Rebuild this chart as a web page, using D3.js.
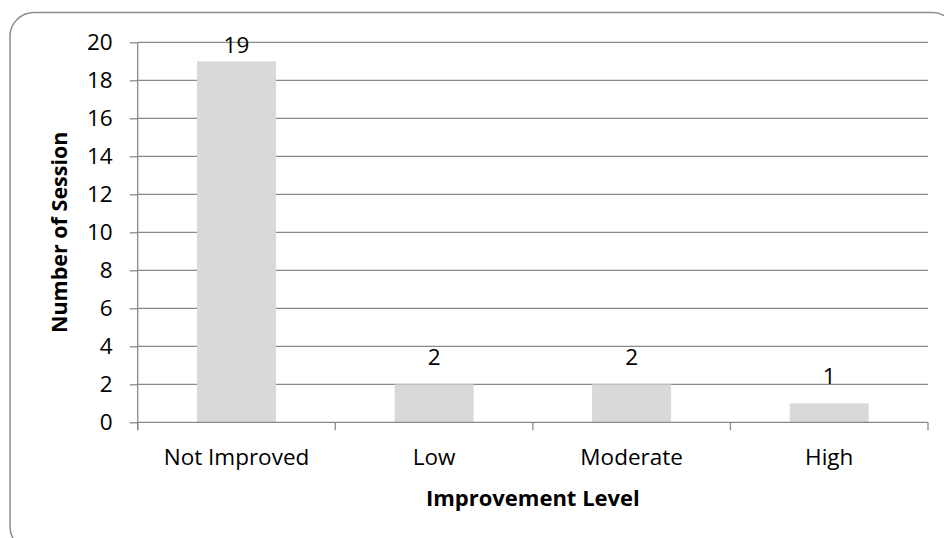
<!DOCTYPE html>
<html>
<head>
<meta charset="utf-8">
<script src="https://cdn.jsdelivr.net/npm/d3@7"></script>
<style>
  html, body { margin: 0; padding: 0; background: #fff; }
  svg { display: block; }
  text { font-family: "Open Sans", "Noto Sans", sans-serif; fill: #000; }
</style>
</head>
<body>
<svg id="chart" width="944" height="538"></svg>
<script>
// Sessions per improvement level
const categories = ["Not Improved", "Low", "Moderate", "High"];
const sessions = [19, 2, 2, 1];
const yTicks = [0, 2, 4, 6, 8, 10, 12, 14, 16, 18, 20];
const xTitle = "Improvement Level";
const yTitle = "Number of Session";

const plot = { left: 137.7, right: 928, top: 42.3, bottom: 422.3 };
const gridColor = "#898989";
const labelSize = 22.5;

const svg = d3.select("#chart");

// Rounded chart-area frame (runs past the right and bottom edges)
svg.append("rect")
  .attr("x", 10).attr("y", 12.5)
  .attr("width", 946).attr("height", 538)
  .attr("rx", 24).attr("ry", 24)
  .attr("fill", "#fff")
  .attr("stroke", "#8c8c8c")
  .attr("stroke-width", 1.5);

const x = d3.scaleBand()
  .domain(categories)
  .range([plot.left, plot.right])
  .paddingInner(0.6)
  .paddingOuter(0.3);

const y = d3.scaleLinear()
  .domain([0, 20])
  .range([plot.bottom, plot.top]);

// Horizontal gridlines
svg.append("g")
  .selectAll("line")
  .data(yTicks.filter(d => d > 0))
  .join("line")
  .attr("x1", plot.left).attr("x2", plot.right)
  .attr("y1", d => y(d)).attr("y2", d => y(d))
  .attr("stroke", gridColor)
  .attr("stroke-width", 1.3);

// Bars
svg.append("g")
  .selectAll("rect")
  .data(sessions)
  .join("rect")
  .attr("x", (d, i) => x(categories[i]))
  .attr("y", d => y(d))
  .attr("width", x.bandwidth())
  .attr("height", d => y(0) - y(d))
  .attr("fill", "#d9d9d9");

// Y axis
const yAxis = d3.axisLeft(y)
  .tickValues(yTicks)
  .tickSize(8)
  .tickPadding(17)
  .tickSizeOuter(0);
const gy = svg.append("g")
  .attr("transform", `translate(${plot.left},0)`)
  .call(yAxis);
gy.select(".domain").remove();
gy.append("line")
  .attr("x1", 0).attr("x2", 0)
  .attr("y1", plot.top).attr("y2", plot.bottom + 8)
  .attr("stroke", gridColor).attr("stroke-width", 1.3);
gy.selectAll(".tick line").attr("stroke", gridColor).attr("stroke-width", 1.3);
gy.selectAll(".tick text")
  .attr("font-size", labelSize)
  .attr("font-family", '"Open Sans", sans-serif')
  .attr("fill", "#000");

// X axis: ticks sit on the category boundaries
const bounds = d3.range(categories.length + 1)
  .map(i => plot.left + i * x.step());
const gx = svg.append("g");
gx.append("line")
  .attr("x1", plot.left).attr("x2", plot.right)
  .attr("y1", plot.bottom).attr("y2", plot.bottom)
  .attr("stroke", gridColor).attr("stroke-width", 1.3);
gx.selectAll("line.tk")
  .data(bounds)
  .join("line")
  .attr("class", "tk")
  .attr("x1", d => d).attr("x2", d => d)
  .attr("y1", plot.bottom).attr("y2", plot.bottom + 8)
  .attr("stroke", gridColor).attr("stroke-width", 1.3);
gx.selectAll("text")
  .data(categories)
  .join("text")
  .attr("x", d => x(d) + x.bandwidth() / 2)
  .attr("y", 465)
  .attr("text-anchor", "middle")
  .attr("font-size", labelSize)
  .text(d => d);

// Value labels above bars, kept inside the plot area
svg.append("g")
  .selectAll("text")
  .data(sessions)
  .join("text")
  .attr("x", (d, i) => x(categories[i]) + x.bandwidth() / 2)
  .attr("y", d => Math.max(y(d) - 19, plot.top + 10.5))
  .attr("text-anchor", "middle")
  .attr("font-size", labelSize)
  .text(d => d);

// Axis titles
svg.append("text")
  .attr("x", (plot.left + plot.right) / 2)
  .attr("y", 506)
  .attr("text-anchor", "middle")
  .attr("font-size", 22)
  .attr("font-weight", "bold")
  .text(xTitle);

svg.append("text")
  .attr("transform", `translate(67,${(plot.top + plot.bottom) / 2}) rotate(-90)`)
  .attr("text-anchor", "middle")
  .attr("font-size", 21.5)
  .attr("font-weight", "bold")
  .text(yTitle);
</script>
</body>
</html>
